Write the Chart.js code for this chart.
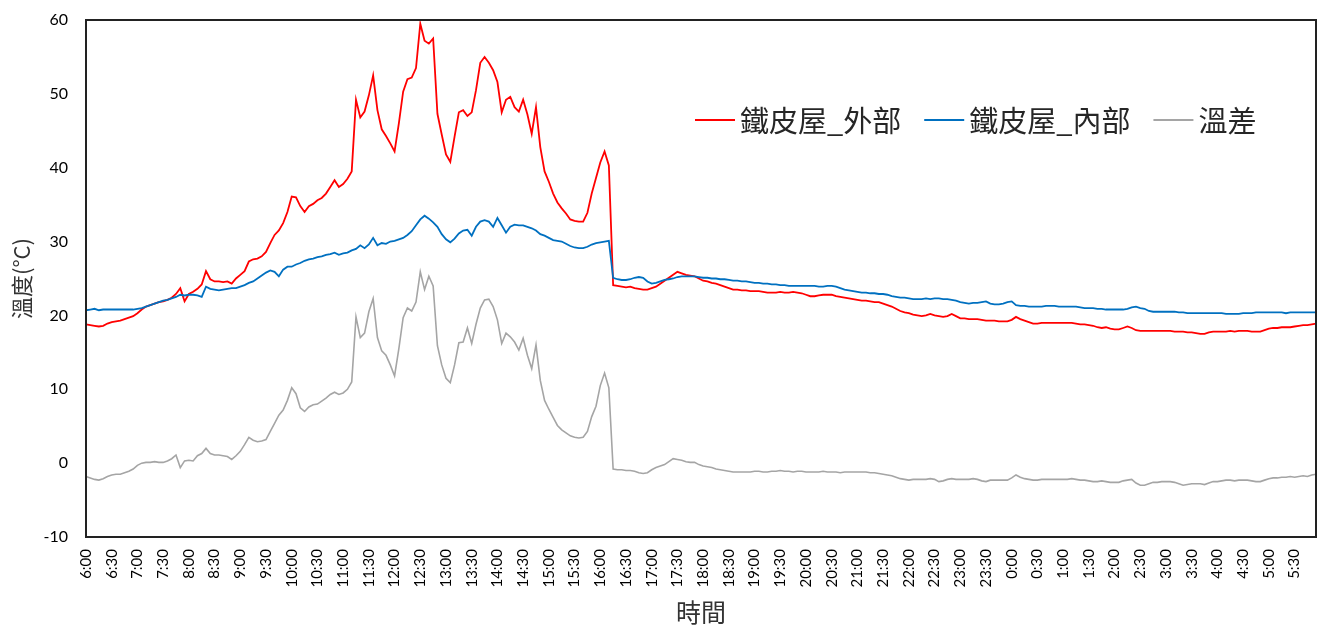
<!DOCTYPE html>
<html>
<head>
<meta charset="utf-8">
<script src="https://cdn.jsdelivr.net/npm/chart.js@4"></script>
<style>
  html, body { margin: 0; padding: 0; background: #fff; }
</style>
</head>
<body>
<canvas id="tempChart" width="1320" height="631"></canvas>
<script>
// 5-minute readings from 6:00 to 5:55 the next morning (one row = one hour)
const outside = [
  18.8, 18.7, 18.6, 18.5, 18.6, 18.9, 19.1, 19.2, 19.3, 19.5, 19.7, 19.9,
  20.3, 20.8, 21.2, 21.4, 21.6, 21.8, 21.9, 22.1, 22.4, 22.9, 23.7, 21.9,
  22.9, 23.2, 23.6, 24.2, 26.0, 24.9, 24.6, 24.6, 24.5, 24.6, 24.3, 25.0,
  25.5, 26.0, 27.3, 27.6, 27.7, 28.0, 28.6, 29.8, 30.9, 31.5, 32.5, 34.0,
  36.1, 36.0, 34.8, 34.0, 34.8, 35.1, 35.6, 35.9, 36.5, 37.4, 38.3, 37.4,
  37.8, 38.5, 39.5, 49.2, 46.8, 47.6, 49.8, 52.5, 47.8, 45.2, 44.3, 43.3,
  42.2, 46.0, 50.3, 52.0, 52.2, 53.5, 59.5, 57.2, 56.8, 57.5, 47.3, 44.5,
  41.8, 40.8, 44.2, 47.5, 47.8, 47.0, 47.5, 50.5, 54.2, 55.0, 54.2, 53.2,
  51.6, 47.5, 49.2, 49.6, 48.2, 47.6, 49.2, 47.2, 44.6, 48.2, 42.8, 39.5,
  38.1, 36.5, 35.3, 34.5, 33.8, 33.0, 32.8, 32.7, 32.7, 33.9, 36.5, 38.6,
  40.7, 42.2, 40.3, 24.1, 24.0, 23.9, 23.8, 23.9, 23.7, 23.6, 23.5, 23.5,
  23.7, 23.9, 24.3, 24.7, 25.1, 25.5, 25.9, 25.7, 25.5, 25.4, 25.3, 25.0,
  24.7, 24.6, 24.4, 24.3, 24.1, 23.9, 23.7, 23.5, 23.5, 23.4, 23.4, 23.3,
  23.3, 23.3, 23.2, 23.1, 23.1, 23.1, 23.2, 23.1, 23.1, 23.2, 23.1, 23.0,
  22.8, 22.6, 22.6, 22.7, 22.8, 22.8, 22.8, 22.6, 22.5, 22.4, 22.3, 22.2,
  22.1, 22.0, 22.0, 21.9, 21.8, 21.8, 21.6, 21.4, 21.2, 20.9, 20.6, 20.4,
  20.3, 20.1, 20.0, 19.9, 20.0, 20.2, 20.0, 19.9, 19.8, 19.9, 20.2, 19.9,
  19.6, 19.6, 19.5, 19.5, 19.5, 19.4, 19.3, 19.3, 19.3, 19.2, 19.2, 19.2,
  19.4, 19.8, 19.5, 19.3, 19.1, 18.9, 18.9, 19.0, 19.0, 19.0, 19.0, 19.0,
  19.0, 19.0, 19.0, 18.9, 18.8, 18.8, 18.7, 18.6, 18.4, 18.3, 18.4, 18.2,
  18.1, 18.1, 18.3, 18.5, 18.3, 18.0, 17.9, 17.9, 17.9, 17.9, 17.9, 17.9,
  17.9, 17.9, 17.8, 17.8, 17.8, 17.7, 17.7, 17.6, 17.5, 17.5, 17.7, 17.8,
  17.8, 17.8, 17.8, 17.9, 17.8, 17.9, 17.9, 17.9, 17.8, 17.8, 17.8, 18.0,
  18.2, 18.3, 18.3, 18.4, 18.4, 18.4, 18.5, 18.6, 18.7, 18.7, 18.8, 18.9
];

const inside = [
  20.7, 20.8, 20.9, 20.7, 20.8, 20.8, 20.8, 20.8, 20.8, 20.8, 20.8, 20.8,
  20.9, 21.0, 21.2, 21.4, 21.6, 21.8, 22.0, 22.1, 22.3, 22.5, 22.8, 22.7,
  22.8, 22.8, 22.7, 22.5, 23.9, 23.6, 23.5, 23.4, 23.5, 23.6, 23.7, 23.7,
  23.9, 24.1, 24.4, 24.6, 25.0, 25.4, 25.8, 26.1, 25.9, 25.3, 26.2, 26.6,
  26.6, 26.9, 27.1, 27.4, 27.6, 27.7, 27.9, 28.0, 28.2, 28.3, 28.5, 28.2,
  28.4, 28.5, 28.8, 29.0, 29.5, 29.1, 29.6, 30.5, 29.5, 29.8, 29.7, 30.0,
  30.1, 30.3, 30.5, 30.9, 31.4, 32.2, 33.0, 33.5, 33.1, 32.6, 32.0, 31.0,
  30.3, 29.9, 30.4, 31.1, 31.5, 31.6, 30.8, 32.0, 32.7, 32.9, 32.7, 32.0,
  33.2, 32.2, 31.2, 32.0, 32.3, 32.2, 32.2, 32.0, 31.8, 31.5, 31.0, 30.8,
  30.5, 30.2, 30.1, 30.0, 29.7, 29.4, 29.2, 29.1, 29.1, 29.3, 29.6, 29.8,
  29.9, 30.0, 30.1, 25.1, 24.9, 24.8, 24.8, 24.9, 25.1, 25.2, 25.1, 24.6,
  24.3, 24.4, 24.6, 24.8, 24.9, 25.0, 25.2, 25.3, 25.3, 25.3, 25.3, 25.2,
  25.1, 25.1, 25.0, 25.0, 24.9, 24.9, 24.8, 24.7, 24.7, 24.6, 24.6, 24.5,
  24.4, 24.4, 24.3, 24.3, 24.2, 24.2, 24.1, 24.1, 24.0, 24.0, 24.0, 24.0,
  24.0, 24.0, 24.0, 23.9, 23.9, 24.0, 24.0, 23.9, 23.7, 23.5, 23.4, 23.3,
  23.2, 23.1, 23.1, 23.0, 23.0, 22.9, 22.9, 22.8, 22.6, 22.5, 22.4, 22.4,
  22.3, 22.2, 22.2, 22.2, 22.3, 22.2, 22.3, 22.3, 22.2, 22.2, 22.1, 22.0,
  21.8, 21.7, 21.6, 21.7, 21.7, 21.8, 21.9, 21.6, 21.5, 21.5, 21.6, 21.8,
  21.9, 21.4, 21.3, 21.3, 21.2, 21.2, 21.2, 21.2, 21.3, 21.3, 21.3, 21.2,
  21.2, 21.2, 21.2, 21.2, 21.1, 21.0, 21.0, 21.0, 20.9, 20.9, 20.8, 20.8,
  20.8, 20.8, 20.8, 20.9, 21.1, 21.2, 21.0, 20.9, 20.6, 20.5, 20.5, 20.5,
  20.5, 20.5, 20.5, 20.4, 20.4, 20.3, 20.3, 20.3, 20.3, 20.3, 20.3, 20.3,
  20.3, 20.3, 20.2, 20.2, 20.2, 20.2, 20.3, 20.3, 20.3, 20.4, 20.4, 20.4,
  20.4, 20.4, 20.4, 20.4, 20.3, 20.4, 20.4, 20.4, 20.4, 20.4, 20.4, 20.4
];

const difference = [
  -1.8, -2.0, -2.2, -2.3, -2.1, -1.8, -1.6, -1.5, -1.5, -1.3, -1.1, -0.8,
  -0.3, 0.0, 0.1, 0.1, 0.2, 0.1, 0.1, 0.3, 0.6, 1.1, -0.6, 0.3,
  0.4, 0.3, 1.0, 1.3, 2.0, 1.3, 1.1, 1.1, 1.0, 0.9, 0.5, 1.0,
  1.6, 2.5, 3.5, 3.1, 2.9, 3.0, 3.2, 4.3, 5.4, 6.5, 7.2, 8.5,
  10.2, 9.4, 7.5, 7.0, 7.6, 7.9, 8.0, 8.4, 8.8, 9.3, 9.6, 9.3,
  9.5, 10.0, 11.0, 19.8, 17.0, 17.6, 20.5, 22.3, 17.0, 15.2, 14.6, 13.3,
  11.8, 15.5, 19.7, 21.0, 20.6, 21.8, 25.9, 23.5, 25.3, 24.0, 15.9, 13.3,
  11.5, 10.9, 13.3, 16.3, 16.4, 18.3, 16.2, 18.8, 21.0, 22.1, 22.2, 21.2,
  19.4, 16.2, 17.6, 17.1, 16.4, 15.3, 16.9, 14.6, 12.8, 16.0, 11.2, 8.5,
  7.3, 6.2, 5.1, 4.5, 4.1, 3.7, 3.5, 3.4, 3.5, 4.3, 6.3, 7.7,
  10.5, 12.2, 10.2, -0.8, -0.9, -0.9, -1.0, -1.0, -1.1, -1.3, -1.4, -1.3,
  -0.9, -0.6, -0.4, -0.2, 0.2, 0.6, 0.5, 0.4, 0.2, 0.1, 0.1, -0.2,
  -0.4, -0.5, -0.6, -0.8, -0.9, -1.0, -1.1, -1.2, -1.2, -1.2, -1.2, -1.2,
  -1.1, -1.1, -1.2, -1.2, -1.1, -1.1, -1.0, -1.1, -1.1, -1.2, -1.1, -1.1,
  -1.2, -1.2, -1.2, -1.2, -1.1, -1.2, -1.2, -1.2, -1.3, -1.2, -1.2, -1.2,
  -1.2, -1.2, -1.2, -1.3, -1.3, -1.4, -1.5, -1.6, -1.7, -1.9, -2.1, -2.2,
  -2.3, -2.2, -2.2, -2.2, -2.2, -2.1, -2.2, -2.5, -2.4, -2.2, -2.1, -2.2,
  -2.2, -2.2, -2.2, -2.1, -2.2, -2.4, -2.5, -2.3, -2.3, -2.3, -2.3, -2.3,
  -2.0, -1.6, -1.9, -2.1, -2.2, -2.3, -2.3, -2.2, -2.2, -2.2, -2.2, -2.2,
  -2.2, -2.2, -2.1, -2.2, -2.3, -2.3, -2.4, -2.5, -2.5, -2.4, -2.5, -2.6,
  -2.6, -2.6, -2.4, -2.3, -2.2, -2.7, -3.0, -3.0, -2.8, -2.6, -2.6, -2.5,
  -2.5, -2.5, -2.6, -2.8, -3.0, -2.9, -2.8, -2.8, -2.8, -2.9, -2.7, -2.5,
  -2.5, -2.4, -2.3, -2.3, -2.4, -2.3, -2.3, -2.3, -2.4, -2.5, -2.5, -2.3,
  -2.1, -2.0, -2.0, -1.9, -1.9, -1.8, -1.9, -1.8, -1.7, -1.8, -1.6, -1.5
];

const seriesNames = ['鐵皮屋_外部', '鐵皮屋_內部', '溫差'];

// time of day for each reading, "H:MM"
const times = outside.map((_, i) => {
  const m = 360 + i * 5;
  const h = Math.floor(m / 60) % 24;
  return h + ':' + String(m % 60).padStart(2, '0');
});

// box around the plot area
const plotFrame = {
  id: 'plotFrame',
  afterDraw(chart) {
    const { ctx, chartArea: a } = chart;
    ctx.save();
    ctx.strokeStyle = '#222';
    ctx.lineWidth = 2;
    ctx.strokeRect(a.left, a.top, a.right - a.left, a.bottom - a.top);
    ctx.restore();
  }
};

// legend sits inside the plot, to the right of the peaks
const innerLegend = {
  id: 'innerLegend',
  afterDraw(chart) {
    const ctx = chart.ctx;
    const y = 120;
    let x = 695;
    ctx.save();
    ctx.font = '29px "Noto Sans CJK TC"';
    ctx.textBaseline = 'middle';
    chart.data.datasets.forEach(ds => {
      ctx.strokeStyle = ds.borderColor;
      ctx.lineWidth = 2;
      ctx.beginPath();
      ctx.moveTo(x, y);
      ctx.lineTo(x + 40, y);
      ctx.stroke();
      x += 45;
      ctx.fillStyle = '#262626';
      ctx.fillText(ds.label, x, y + 1);
      x += ctx.measureText(ds.label).width + 23;
    });
    ctx.restore();
  }
};

new Chart(document.getElementById('tempChart'), {
  type: 'line',
  data: {
    labels: times,
    datasets: [
      { label: seriesNames[0], data: outside, borderColor: '#FF0000', borderWidth: 1.8, order: 3 },
      { label: seriesNames[1], data: inside, borderColor: '#0070C0', borderWidth: 1.8, order: 2 },
      { label: seriesNames[2], data: difference, borderColor: '#A5A5A5', borderWidth: 1.6, order: 1 }
    ]
  },
  options: {
    responsive: false,
    animation: false,
    devicePixelRatio: 1,
    elements: { point: { radius: 0 }, line: { tension: 0 } },
    layout: { padding: { top: 20, right: 4, left: 0, bottom: 0 } },
    plugins: { legend: { display: false }, tooltip: { enabled: false } },
    scales: {
      x: {
        type: 'category',
        offset: false,
        grid: { display: false, drawTicks: false },
        border: { display: false },
        ticks: {
          autoSkip: false,
          minRotation: 90,
          maxRotation: 90,
          padding: 12,
          color: '#000',
          font: { family: 'Lato', size: 15 },
          callback: (v, i) => (i % 6 === 0 ? times[i] : null)
        },
        title: {
          display: true,
          text: '時間',
          color: '#333',
          font: { family: '"Noto Sans CJK TC"', size: 25 },
          padding: { top: 0, bottom: 4 }
        },
        afterFit: s => {
          s.height = 94;
          s.paddingLeft = 0;
          s.paddingRight = 0;
        }
      },
      y: {
        min: -10,
        max: 60,
        grid: { display: false, drawTicks: false },
        border: { display: false },
        ticks: {
          stepSize: 10,
          padding: 18,
          color: '#000',
          font: { family: 'Lato', size: 16 }
        },
        title: {
          display: true,
          text: '溫度(°C)',
          color: '#333',
          font: { family: '"Noto Sans CJK TC"', size: 22 },
          padding: { top: 8, bottom: 0 }
        },
        afterFit: s => {
          s.width = 86;
          s.paddingTop = 0;
          s.paddingBottom = 0;
        }
      }
    }
  },
  plugins: [plotFrame, innerLegend]
});
</script>
</body>
</html>
